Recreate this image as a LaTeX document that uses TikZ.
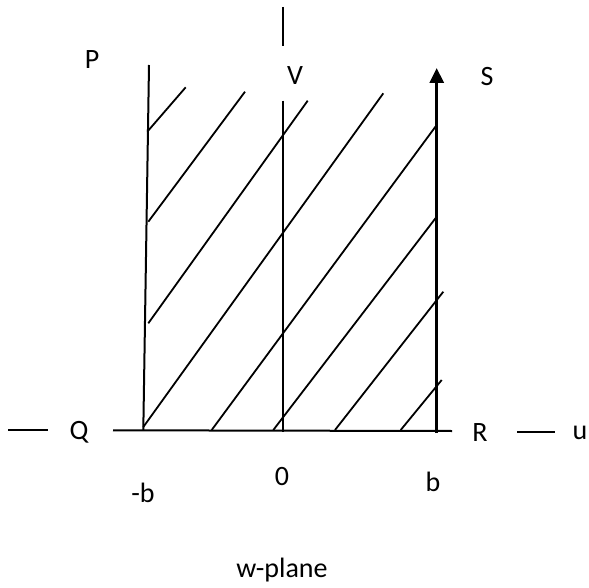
\documentclass[tikz,border=0pt]{standalone}
\usepackage{fontspec}
\setmainfont{Carlito}
\usetikzlibrary{arrows.meta}
\begin{document}
\begin{tikzpicture}[x=1pt,y=-1pt,
  ln/.style={line width=2pt},
  hatch/.style={line width=1.8pt},
  lbl/.style={inner sep=0pt, font=\fontsize{28}{32}\selectfont}]
\useasboundingbox (0,0) rectangle (589,588);
% coordinates
\coordinate (Ptop) at (149,65);
\coordinate (Pbot) at (143.3,430);
\coordinate (Ttop) at (283.3,7);
\coordinate (Tbot) at (283.3,46);
\coordinate (Vtop) at (283.3,100.7);
\coordinate (Vbot) at (283.3,432);
\coordinate (Sbot) at (436.7,433);
\coordinate (Stip) at (436.7,68);
\coordinate (Aleft) at (113,430.3);
\coordinate (Aright) at (452,431);
\coordinate (Lsa) at (8,430.3);
\coordinate (Lsb) at (48,430.3);
\coordinate (Rsa) at (517,431.5);
\coordinate (Rsb) at (555,431.5);
% axes and boundary lines
\draw[ln] (Ttop) -- (Tbot);
\draw[ln] (Ptop) -- (Pbot);
\draw[ln] (Vtop) -- (Vbot);
\draw[ln] (Aleft) -- (Aright);
\draw[ln] (Lsa) -- (Lsb);
\draw[ln] (Rsa) -- (Rsb);
\draw[line width=3pt, -{Triangle[length=15pt,width=14pt]}] (Sbot) -- (Stip);
% hatching
\draw[hatch] (147.3,131.7) -- (185.7,87.3);
\draw[hatch] (148.3,221.7) -- (245,91.7);
\draw[hatch] (148.3,323.3) -- (307.7,100.7);
\draw[hatch] (143.3,427) -- (383.3,93.3);
\draw[hatch] (211.7,430) -- (436.7,125);
\draw[hatch] (273.3,430) -- (436.7,216.7);
\draw[hatch] (335,430) -- (443.3,291.7);
\draw[hatch] (400.7,430) -- (441.7,380);
% labels
\node[lbl] (P) at (92,60) {P};
\node[lbl] (V) at (295,76) {V};
\node[lbl] (S) at (487,77) {S};
\node[lbl] (Q) at (79,432) {Q};
\node[lbl] (R) at (480,433) {R};
\node[lbl] (u) at (580,433) {u};
\node[lbl] (mb) at (143,493) {-b};
\node[lbl] (zero) at (282,477) {0};
\node[lbl] (b) at (433,482) {b};
\node[lbl] (wp) at (282,570) {w-plane};
\end{tikzpicture}
\end{document}
